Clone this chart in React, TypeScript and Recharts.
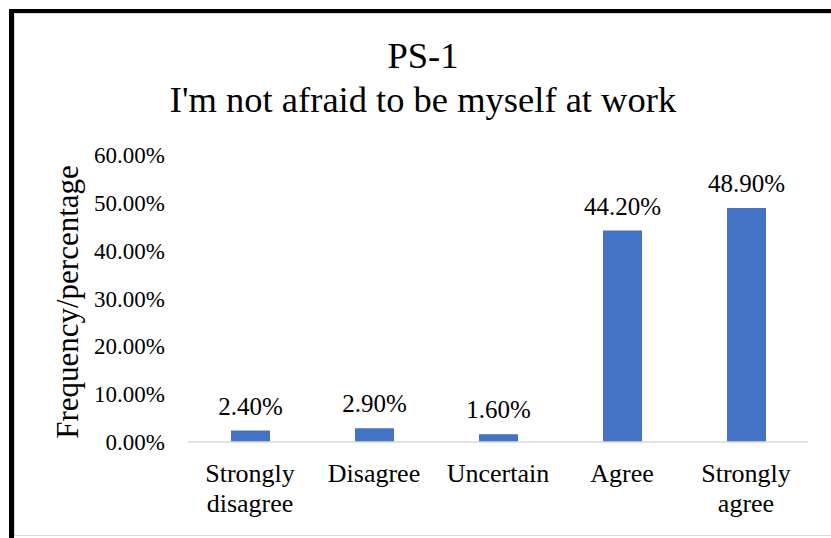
import React from "react";
import { BarChart, Bar, XAxis, YAxis, LabelList } from "recharts";

const categories = ["Strongly disagree", "Disagree", "Uncertain", "Agree", "Strongly agree"];
const percentages = [2.4, 2.9, 1.6, 44.2, 48.9];
const yTicks = [0, 10, 20, 30, 40, 50, 60];
const titleLines = ["PS-1", "I'm not afraid to be myself at work"];
const yAxisTitle = "Frequency/percentage";

const FONT = "'Liberation Serif', 'Times New Roman', serif";

const data = categories.map((name, i) => ({ name, value: percentages[i] }));

const pct = (v: number) => `${Number(v).toFixed(2)}%`;

function CategoryTick({ x, y, payload }: any) {
    const lines = String(payload.value).split(" ");
    return (
        <text x={x} textAnchor="middle" style={{ fontFamily: FONT }} fontSize={26} fill="#000">
            {lines.map((line, i) => (
                <tspan key={i} x={x} y={y + 40 + i * 30}>
                    {line}
                </tspan>
            ))}
        </text>
    );
}

function ValueTick({ x, y, payload }: any) {
    return (
        <text x={x} y={y} dy="0.355em" textAnchor="end" style={{ fontFamily: FONT }} fontSize={23} fill="#000">
            {pct(payload.value)}
        </text>
    );
}

function BarValueLabel({ x, y, width, value }: any) {
    return (
        <text x={x + width / 2} y={y - 16} textAnchor="middle" style={{ fontFamily: FONT }} fontSize={25} fill="#000">
            {pct(value)}
        </text>
    );
}

export default function App() {
    return (
        <div
            style={{
                position: "absolute",
                left: 0,
                top: 0,
                width: 831,
                height: 538,
                overflow: "hidden",
                background: "#fff",
                fontFamily: FONT,
            }}
        >
            {/* outer black frame */}
            <div
                style={{
                    position: "absolute",
                    left: 9,
                    top: 9,
                    width: 900,
                    height: 600,
                    borderLeft: "5px solid #000",
                    borderTop: "4px solid #000",
                }}
            />
            {/* chart area border */}
            <div
                style={{
                    position: "absolute",
                    left: 14,
                    top: 13,
                    width: 900,
                    height: 521,
                    border: "1px solid #d9d9d9",
                }}
            />
            <div style={{ position: "absolute", left: 0, top: 0 }}>
                <BarChart width={831} height={538} data={data} margin={{ top: 155, right: 23, bottom: 0, left: 0 }}>
                    <XAxis
                        dataKey="name"
                        height={96}
                        tickSize={0}
                        tickMargin={0}
                        tickLine={false}
                        axisLine={{ stroke: "#d9d9d9", strokeWidth: 1.5 }}
                        tick={<CategoryTick />}
                        interval={0}
                    />
                    <YAxis
                        width={188}
                        domain={[0, 60]}
                        ticks={yTicks}
                        axisLine={false}
                        tickLine={false}
                        tickSize={0}
                        tickMargin={23}
                        tick={<ValueTick />}
                    />
                    <Bar dataKey="value" fill="#4472c4" barSize={39} isAnimationActive={false}>
                        <LabelList dataKey="value" content={<BarValueLabel />} />
                    </Bar>
                </BarChart>
            </div>
            <svg width={831} height={538} style={{ position: "absolute", left: 0, top: 0, pointerEvents: "none" }}>
                <text x={423} y={68} textAnchor="middle" style={{ fontFamily: FONT }} fontSize={36.5} fill="#000">
                    {titleLines[0]}
                </text>
                <text x={423} y={112} textAnchor="middle" style={{ fontFamily: FONT }} fontSize={36.5} fill="#000">
                    {titleLines[1]}
                </text>
                <text
                    x={78}
                    y={302}
                    transform="rotate(-90, 78, 302)"
                    textAnchor="middle"
                    style={{ fontFamily: FONT }}
                    fontSize={31}
                    fill="#000"
                >
                    {yAxisTitle}
                </text>
            </svg>
        </div>
    );
}
